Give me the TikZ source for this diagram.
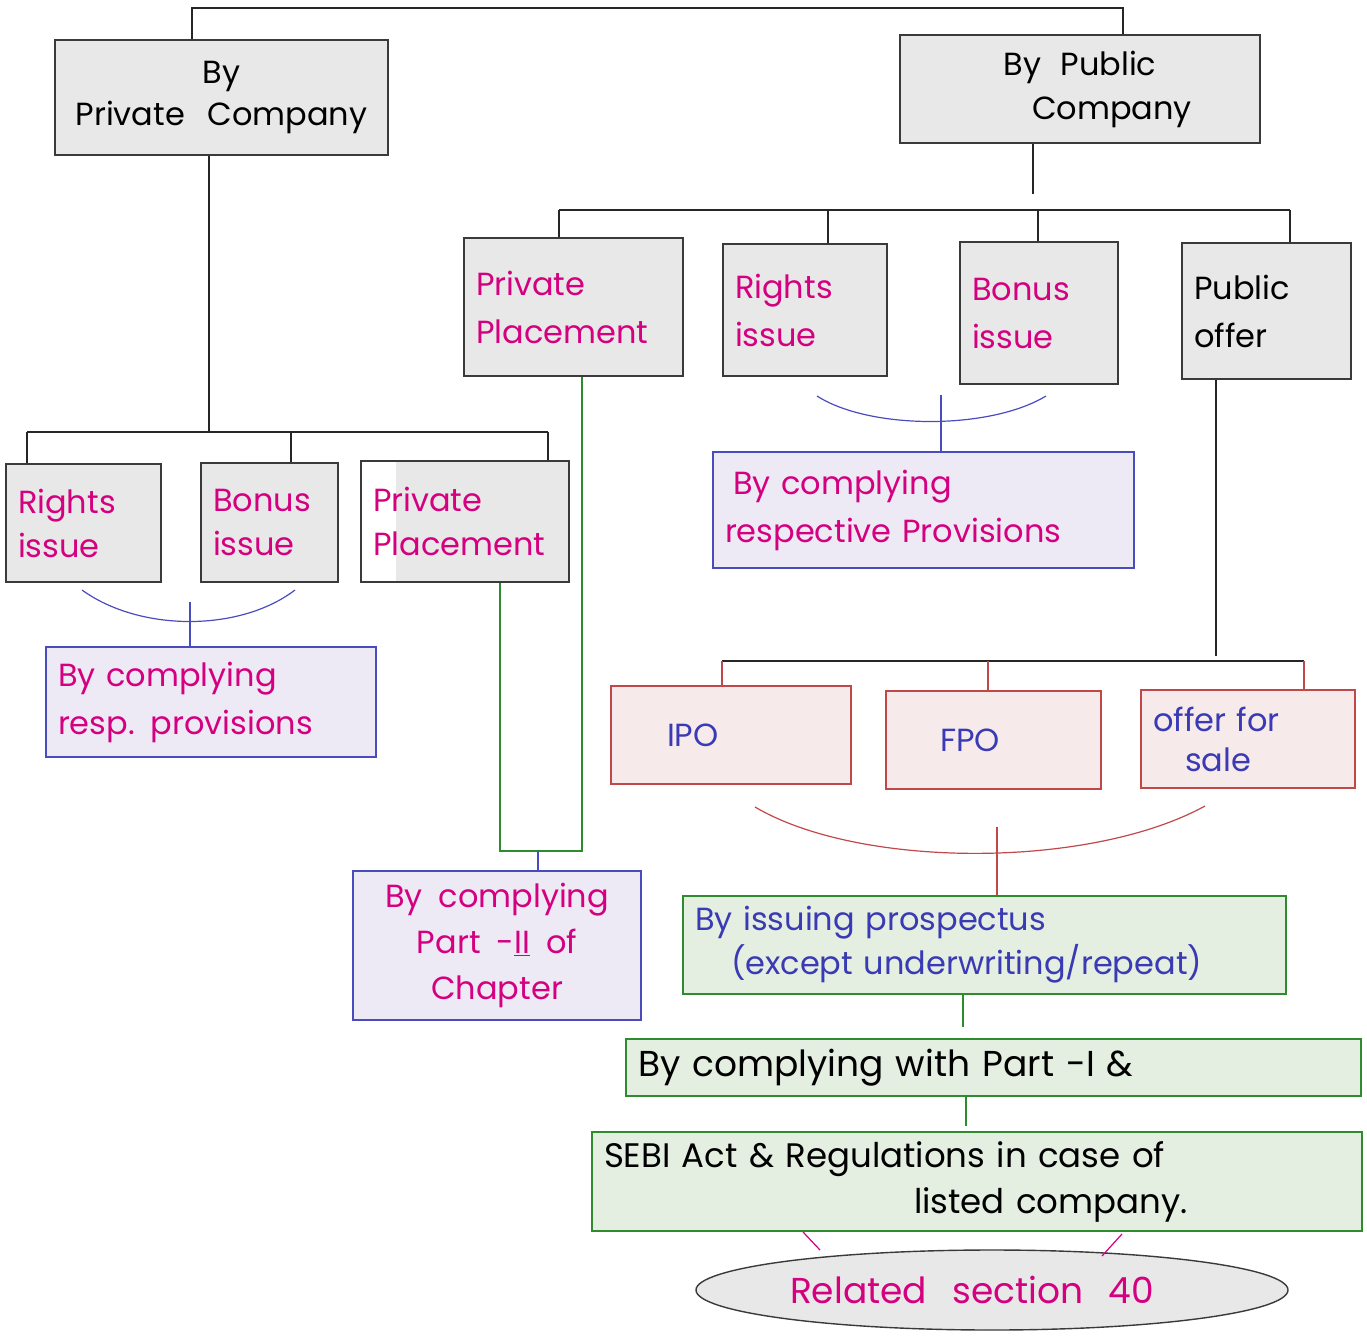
\documentclass[tikz,border=0pt]{standalone}
\usepackage{fontspec}
\setmainfont{Poppins}
\usetikzlibrary{shapes.geometric}
\definecolor{boxgray}{RGB}{232,232,232}
\definecolor{boxline}{RGB}{58,58,58}
\definecolor{inkpink}{RGB}{212,0,128}
\definecolor{inkblue}{RGB}{58,58,180}
\definecolor{lavfill}{RGB}{237,234,246}
\definecolor{lavline}{RGB}{75,75,192}
\definecolor{redfill}{RGB}{246,234,234}
\definecolor{redline}{RGB}{192,72,72}
\definecolor{grnfill}{RGB}{228,239,226}
\definecolor{grnline}{RGB}{46,139,46}
\newcommand{\handfont}[3]{\fontsize{#1}{#2}\selectfont\spaceskip=#3em\relax}

\tikzset{
  graybox/.style={draw=boxline,line width=1.6pt,fill=boxgray,inner sep=12pt,font=\handfont{32}{48}{0.5}},
  lavbox/.style={draw=lavline,line width=1.4pt,fill=lavfill,inner sep=12pt,text=inkpink,font=\handfont{32}{50}{0.6}},
  redbox/.style={draw=redline,line width=1.4pt,fill=redfill,inner sep=12pt,text=inkblue,font=\handfont{32}{40}{0.4}},
  grnbox/.style={draw=grnline,line width=1.4pt,fill=grnfill,inner xsep=12pt,inner ysep=3pt,font=\handfont{34}{46}{0.7}},
  tline/.style={line width=1.3pt,black!85},
  bline/.style={line width=1.2pt,lavline},
  rline/.style={line width=1.2pt,redline},
  gline/.style={line width=1.2pt,grnline},
}

\begin{document}
\begin{tikzpicture}[x=1pt,y=-1pt]
\useasboundingbox (0,0) rectangle (1367,1338);

% the two companies
\node[graybox,minimum width=333pt,minimum height=115pt,align=center,font=\handfont{32}{42}{0.7}] (privco) at (221.5,97.5) {By\\Private Company};
\node[graybox,minimum width=360pt,minimum height=108pt,align=center,font=\handfont{32}{44}{0.6}] (pubco) at (1080,89) {By Public\\\qquad Company};
\coordinate (topL) at (192,8);
\coordinate (topR) at (1123,8);
\draw[tline] (privco.north -| topL) -- (topL) -- (topR) -- (pubco.north -| topR);

% private company branch
\node[graybox,text=inkpink,text width=131pt,minimum height=118pt,align=left,font=\handfont{32}{44}{0.5}] (ri1) at (83.5,523) {Rights\\issue};
\node[graybox,text=inkpink,text width=113pt,minimum height=119pt,align=left,font=\handfont{32}{44}{0.5}] (bi1) at (269.5,522.5) {Bonus\\issue};
\node[graybox,text=inkpink,text width=184pt,minimum height=121pt,align=left,fill=white,font=\handfont{32}{44}{0.5},
  path picture={\fill[boxgray] ([xshift=35pt]path picture bounding box.south west) rectangle (path picture bounding box.north east);}]
  (pp1) at (465,521.5) {Private\\Placement};
\coordinate (pbus) at (209,432);
\coordinate (pb1) at (27,432);
\coordinate (pb2) at (291,432);
\coordinate (pb3) at (548,432);
\draw[tline] (privco.south -| pbus) -- (pbus);
\draw[tline] (pb1) -- (pb3);
\foreach \n/\c in {ri1/pb1,bi1/pb2,pp1/pb3}
  \draw[tline] (\c) -- (\c |- \n.north);

\node[lavbox,text width=306pt,minimum height=110pt,align=left,font=\handfont{32}{48}{0.6}] (cmp1) at (211,702) {By complying\\resp. provisions};
\coordinate (arc1a) at (82,590);
\coordinate (arc1b) at (295,590);
\coordinate (join1) at (190,602);
\draw[bline] (arc1a) .. controls (140,632) and (240,632) .. (arc1b);
\draw[bline] (join1) -- (join1 |- cmp1.north);

% public company branch
\node[graybox,text=inkpink,text width=195pt,minimum height=138pt,align=left] (pp2) at (573.5,307) {Private\\Placement};
\node[graybox,text=inkpink,text width=140pt,minimum height=132pt,align=left] (ri2) at (805,310) {Rights\\issue};
\node[graybox,text=inkpink,text width=134pt,minimum height=142pt,align=left] (bi2) at (1039,313) {Bonus\\issue};
\node[graybox,text width=145pt,minimum height=136pt,align=left] (po) at (1266.5,311) {Public\\offer};
\coordinate (qdrop) at (1033,194);
\coordinate (qb1) at (559,210);
\coordinate (qb2) at (828,210);
\coordinate (qb3) at (1038,210);
\coordinate (qb4) at (1290,210);
\draw[tline] (pubco.south -| qdrop) -- (qdrop);
\draw[tline] (qb1) -- (qb4);
\foreach \n/\c in {pp2/qb1,ri2/qb2,bi2/qb3,po/qb4}
  \draw[tline] (\c) -- (\c |- \n.north);

\node[lavbox,text width=397pt,minimum height=116pt,align=left,font=\handfont{32}{48}{0.7}] (cmp2) at (923.5,510) {\hspace*{8pt}By complying\\respective Provisions};
\coordinate (arc2a) at (817,396);
\coordinate (arc2b) at (1046,396);
\coordinate (join2) at (941,395);
\draw[bline] (arc2a) .. controls (870,430) and (990,430) .. (arc2b);
\draw[bline] (join2) -- (join2 |- cmp2.north);

% private placement -> part II
\node[lavbox,minimum width=288pt,minimum height=149pt,align=center,font=\handfont{32}{46}{0.5}] (cmp3) at (497,945.5) {By complying\\Part -\underline{II} of\\Chapter};
\coordinate (gjoin) at (538,851);
\coordinate (gleft) at (500,851);
\coordinate (gright) at (582,851);
\draw[gline] (pp2.south -| gright) -- (gright) -- (gleft) -- (pp1.south -| gleft);
\draw[bline] (gjoin) -- (gjoin |- cmp3.north);

% public offer
\node[redbox,text width=216pt,minimum height=98pt,align=left] (ipo) at (731,735) {\hspace*{44pt}IPO};
\node[redbox,text width=191pt,minimum height=98pt,align=left] (fpo) at (993.5,740) {\hspace*{42pt}FPO};
\node[redbox,text width=190pt,minimum height=98pt,align=left] (ofs) at (1248,739) {offer for\\\quad sale};
\coordinate (odrop) at (1216,656);
\coordinate (ob1) at (722,661);
\coordinate (ob2) at (988,661);
\coordinate (ob3) at (1304,661);
\draw[tline] (po.south -| odrop) -- (odrop);
\draw[tline] (ob1) -- (ob3);
\foreach \n/\c in {ipo/ob1,fpo/ob2,ofs/ob3}
  \draw[rline] (\c) -- (\c |- \n.north);

\node[grnbox,text=inkblue,text width=579pt,minimum height=98pt,align=left,font=\handfont{32}{44}{0.8}] (prosp) at (984.5,945) {By issuing prospectus\\\hspace*{36pt}(except underwriting/repeat)};
\coordinate (arc3a) at (755,807);
\coordinate (arc3b) at (1205,806);
\coordinate (join3) at (997,827);
\draw[rline] (arc3a) .. controls (860,869) and (1090,869) .. (arc3b);
\draw[rline] (join3) -- (join3 |- prosp.north);

\node[grnbox,text width=711pt,minimum height=57pt,align=left,font=\handfont{36}{44}{0.9}] (part1) at (993.5,1067.5) {By complying with Part -I \&};
\node[grnbox,text width=746pt,minimum height=99pt,align=left,font=\handfont{34}{46}{0.9}] (sebi) at (977,1181.5) {SEBI Act \& Regulations in case of\\\hspace*{310pt}listed company.};
\coordinate (g1) at (963,1027);
\coordinate (g2) at (966,1126);
\draw[gline] (prosp.south -| g1) -- (g1);
\draw[gline] (part1.south -| g2) -- (g2);

% section 40
\node[ellipse,draw=boxline,line width=1.4pt,fill=boxgray,minimum width=592pt,minimum height=80pt,text=inkpink,font=\handfont{36}{40}{0.7}] (sec40) at (992,1290) {Related section 40\hspace*{40pt}};
\coordinate (m1a) at (803,1232);
\coordinate (m1b) at (820,1250);
\coordinate (m2a) at (1122,1234);
\coordinate (m2b) at (1102,1256);
\draw[line width=1.2pt,inkpink] (m1a) -- (m1b);
\draw[line width=1.2pt,inkpink] (m2a) -- (m2b);
\end{tikzpicture}
\end{document}
